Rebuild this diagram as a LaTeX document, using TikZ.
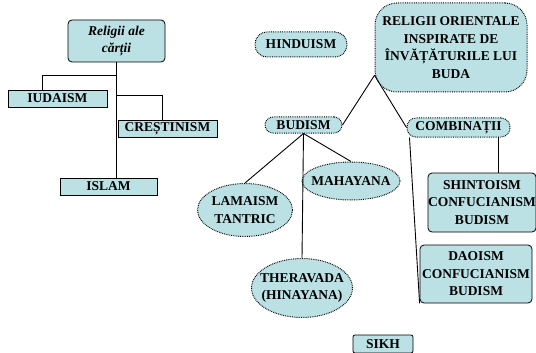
\documentclass[tikz,border=0pt]{standalone}
\usepackage{fontspec}
\setmainfont{Liberation Serif}
\usetikzlibrary{calc,positioning,shapes.geometric}
\definecolor{relblue}{RGB}{187,225,229}
\tikzset{
  relbox/.style={draw=black, line width=0.8pt, fill=relblue, rectangle, inner sep=0pt, align=center, font=\bfseries\fontsize{13.5}{17.5}\selectfont},
  relpill/.style={relbox, rounded corners=9pt, densely dotted, line width=1pt},
  reloval/.style={relbox, ellipse, inner xsep=-8pt, densely dotted, line width=1pt},
  link/.style={black, line width=0.9pt}
}

\begin{document}
\begin{tikzpicture}[x=1pt,y=-1pt]
\useasboundingbox (0,0) rectangle (536,353);

% Religii ale cartii
\node[relbox, rounded corners=4pt, minimum width=97pt, minimum height=42pt, font=\bfseries\itshape\fontsize{13.5}{17}\selectfont] (carte) at (116.5,41) {Religii ale\\cărții};
\node[relbox, minimum width=99pt, minimum height=17pt] (iud) at (57.5,98.5) {IUDAISM};
\node[relbox, minimum width=99pt, minimum height=17pt] (crest) at (167.5,128.5) {CREȘTINISM};
\node[relbox, minimum width=97pt, minimum height=17pt] (islam) at (108.5,186.5) {ISLAM};

\coordinate (jIud) at (carte.south |- 0,75);
\coordinate (jCrest) at (carte.south |- 0,95);
\draw[link] (carte.south) -- (carte.south |- islam.north);
\draw[link] (jIud) -| ([xshift=-15.5pt]iud.north);
\draw[link] (jCrest) -| ([xshift=-5.5pt]crest.north);

% Religii orientale
\node[relpill, rounded corners=12pt, minimum width=92pt, minimum height=25pt] (hindu) at (301,44.5) {HINDUISM};
\node[relpill, rounded corners=22pt, minimum width=152pt, minimum height=89pt] (orient) at (451,47.5) {RELIGII ORIENTALE\\INSPIRATE DE\\ÎNVĂȚĂTURILE LUI\\BUDA};
\node[relpill, rounded corners=8pt, minimum width=77pt, minimum height=16pt] (budism) at (303.5,125) {BUDISM};
\node[relpill, minimum width=103pt, minimum height=19pt] (combin) at (458.5,127.5) {COMBINAȚII};

\draw[link] (orient.200) -- (budism.east);
\draw[link] (orient.200) -- (combin.west);

% Budism
\node[reloval, minimum width=95pt, minimum height=53pt] (lamaism) at (245,210) {LAMAISM\\TANTRIC};
\node[reloval, minimum width=98pt, minimum height=38pt] (mahayana) at (351,181) {MAHAYANA};
\node[reloval, minimum width=101pt, minimum height=59pt] (theravada) at (302,288) {THERAVADA\\(HINAYANA)};

\draw[link] (budism.south) -- (lamaism.north);
\draw[link] (budism.south) -- (theravada.north);
\draw[link] (budism.south) -- (mahayana.north);

% Combinatii
\node[relbox, rounded corners=4pt, minimum width=108pt, minimum height=59pt] (shinto) at (482,202.5) {SHINTOISM\\CONFUCIANISM\\BUDISM};
\node[relbox, rounded corners=4pt, minimum width=112pt, minimum height=58pt] (daoism) at (476,274) {DAOISM\\CONFUCIANISM\\BUDISM};

\coordinate (cShinto) at (498,137);
\draw[link] (cShinto) -- (cShinto |- shinto.north);
\draw[link] ([xshift=3pt]combin.south west) -- (daoism.south west);

\node[relbox, rounded corners=2pt, minimum width=60pt, minimum height=18pt] (sikh) at (383,344) {SIKH};

\end{tikzpicture}
\end{document}
